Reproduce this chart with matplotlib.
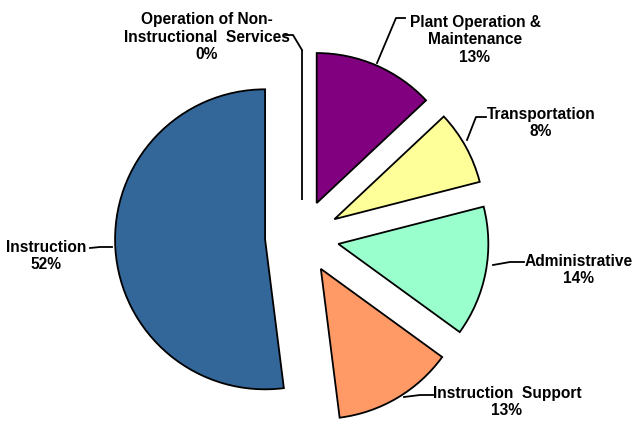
import matplotlib
matplotlib.use("Agg")
import matplotlib.pyplot as plt

categories = ["Plant Operation &\nMaintenance", "Transportation", "Administrative",
              "Instruction  Support", "Instruction", "Operation of Non-\nInstructional  Services"]
values = [13, 8, 14, 13, 52, 0]
colors = ["#800080", "#FFFF99", "#99FFCC", "#FF9966", "#336699", "#FFFFFF"]

W, H = 636, 426
fig = plt.figure(figsize=(W / 100, H / 100), dpi=100)
ax = fig.add_axes([0, 0, 1, 1])
ax.set_xlim(0, W)
ax.set_ylim(0, H)
ax.set_aspect("equal")
ax.axis("off")

cx, cy = 302, H - 237
R = 150
wedges, _ = ax.pie(values, explode=[37] * len(values), startangle=90, counterclock=False,
                   colors=colors, center=(cx, cy), radius=R, normalize=True,
                   wedgeprops=dict(edgecolor="black", linewidth=1.3))
ax.set_xlim(0, W)
ax.set_ylim(0, H)

# label layout: (text x, text y, line points) in image coordinates
layout = [
    (475, 40, [(377, 63), (396, 18), (405, 18)]),
    (541, 123, [(467, 140), (476, 117), (486, 117)]),
    (579, 270, [(493, 265), (510, 262), (524, 262)]),
    (507, 402, [(404, 397), (420, 395), (433, 395)]),
    (46, 256, [(112, 247), (100, 247), (90, 248)]),
    (207, 37, [(302, 50), (293, 35), (285, 35)]),
]
for cat, val, (tx, ty, pts) in zip(categories, values, layout):
    ax.text(tx, H - ty, f"{cat}\n{val}%", ha="center", va="center", fontsize=11.2,
            fontweight="bold", family="Liberation Sans", linespacing=1.22)
    ax.plot([p[0] for p in pts], [H - p[1] for p in pts], color="black", lw=1.3)

fig.savefig("out.png", dpi=100, facecolor="white")
